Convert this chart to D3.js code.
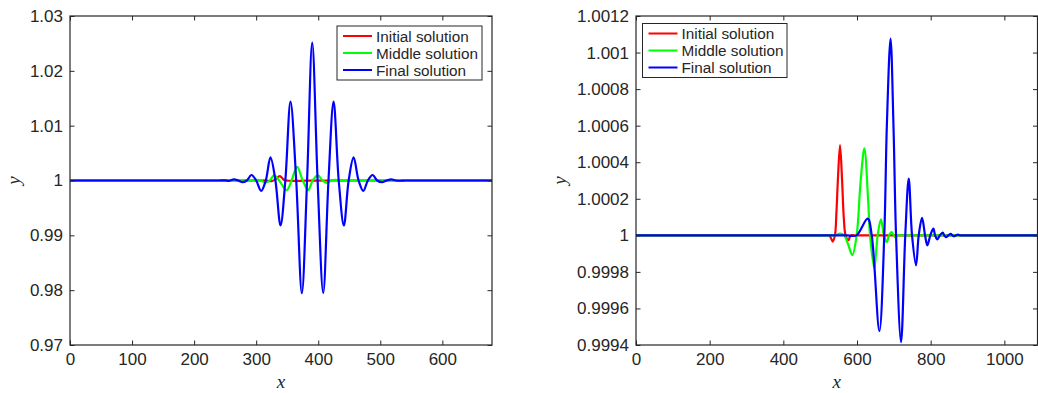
<!DOCTYPE html>
<html>
<head>
<meta charset="utf-8">
<script src="https://cdn.jsdelivr.net/npm/d3@7"></script>
<style>
  html, body { margin: 0; padding: 0; background: #fff; }
  svg { display: block; }
</style>
</head>
<body>
<svg id="chart" width="1038" height="393"></svg>
<script>
// ---------------- DATA ----------------
const seriesNames = ["Initial solution", "Middle solution", "Final solution"];
const seriesColors = ["#ff0000", "#00ff00", "#0000ff"];

// Left panel
const leftXTicks = [0, 100, 200, 300, 400, 500, 600];
const leftYTicks = [0.97, 0.98, 0.99, 1, 1.01, 1.02, 1.03];
const leftYTickLabels = ["0.97", "0.98", "0.99", "1", "1.01", "1.02", "1.03"];

const leftInitialX = [0, 300, 308, 315, 325, 331, 338, 345, 352, 380, 420, 430, 440, 680];
const leftInitialY = [1, 1, 1, 1, 0.9999, 1.0002, 1.0008, 1.0001, 0.99995, 0.99996, 1, 1, 1, 1];

const leftMiddleX = [0, 275, 282, 290, 300, 308, 315, 322, 329, 337, 349, 357, 366, 375, 384, 391, 399.4, 407, 414.5, 421, 428, 435, 445, 455, 680];
const leftMiddleY = [1, 1, 1, 1, 1.0001, 1, 0.9996, 1, 1.00096, 1, 0.99824, 1, 1.0025, 1, 0.9983, 1, 1.00093, 1, 0.99958, 1, 1.0001, 1, 1, 1, 1];

const leftFinalX = [0, 225, 232, 240, 250, 257, 264, 271, 278, 285, 292.4, 300, 308, 315.5, 323, 331, 339.2, 347, 355.3, 364.5, 373.6, 382, 390.3, 399, 408, 416.5, 424.7, 433, 441.3, 449, 457, 465, 472.6, 480, 487.6, 495, 503, 510, 517.7, 525, 532, 540, 550, 560, 680];
const leftFinalY = [1, 1, 1, 1, 1.00002, 0.99995, 1.0002, 1, 0.9997, 1, 1.001, 1, 0.9981, 1, 1.0042, 1, 0.9918, 1, 1.0144, 1, 0.97945, 1, 1.02515, 1, 0.9795, 1, 1.0144, 1, 0.9918, 1, 1.0042, 1, 0.9981, 1, 1.001, 1, 0.9997, 1, 1.0002, 1, 0.99995, 1, 1, 1, 1];

// Right panel
const rightXTicks = [0, 200, 400, 600, 800, 1000];
const rightYTicks = [0.9994, 0.9996, 0.9998, 1, 1.0002, 1.0004, 1.0006, 1.0008, 1.001, 1.0012];
const rightYTickLabels = ["0.9994", "0.9996", "0.9998", "1", "1.0002", "1.0004", "1.0006", "1.0008", "1.001", "1.0012"];

const rightInitialX = [0, 505, 514, 522, 528, 534, 540, 544, 548, 553.9, 559.5, 564, 569, 576.5, 583, 592, 602, 1090];
const rightInitialY = [1, 1, 1, 1, 0.99999, 0.999966, 1, 1.00012, 1.0003, 1.000494, 1.0003, 1.0001, 1, 0.999973, 1, 1, 1, 1];

const rightMiddleX = [0, 520, 530, 540, 553.9, 565, 576, 587.4, 599, 610, 620, 630, 635.4, 647, 656, 665, 673, 680.6, 687, 694, 703, 712, 722, 732, 1090];
const rightMiddleY = [1, 1, 1, 1, 1.00001, 1, 0.99995, 0.999892, 1, 1.0003, 1.000476, 1.0002, 1, 0.99982, 1, 1.0000875, 1, 0.999963, 1, 1.000018, 0.99999, 1, 1, 1, 1];

const rightFinalX = [0, 555, 565, 575, 585, 599, 629, 640, 660.7, 674, 681, 691, 699, 706, 719.5, 731, 740.4, 749.4, 760.2, 767.5, 776.6, 784.7, 791, 799, 807.3, 812, 818, 825, 832.6, 837, 841.7, 848, 854.4, 859, 863.5, 869, 874, 880, 890, 900, 1090];
const rightFinalY = [1, 1, 1, 1, 0.999997, 1, 1.0000913, 1, 0.999476, 1, 1.0006, 1.001076, 1.0006, 1, 0.999416, 1, 1.00031, 1, 0.999836, 1, 1.000095, 1, 0.999945, 1, 1.000037, 1, 0.999978, 1, 1.000015, 1, 0.99999, 1, 1.000008, 1, 0.999995, 1, 1.000004, 1, 1, 1, 1];

// ---------------- DRAW ----------------
const svg = d3.select("#chart");
const textColor = "#262626";
const tickFont = "'Liberation Sans', Arial, Helvetica, sans-serif";

function zip(xs, ys) { return xs.map((x, i) => ({ x, y: ys[i] })); }

function panel(cfg) {
  const g = svg.append("g");
  const x = d3.scaleLinear().domain(cfg.xDomain).range([cfg.left, cfg.right]);
  const y = d3.scaleLinear().domain(cfg.yDomain).range([cfg.bottom, cfg.top]);
  const tickLen = 4.5;

  const clipId = "clip-" + cfg.id;
  svg.append("clipPath").attr("id", clipId).append("rect")
    .attr("x", cfg.left).attr("y", cfg.top)
    .attr("width", cfg.right - cfg.left).attr("height", cfg.bottom - cfg.top);

  // curves
  const line = d3.line().x(d => x(d.x)).y(d => y(d.y)).curve(d3.curveCatmullRom.alpha(0.5));
  const lines = g.append("g").attr("clip-path", `url(#${clipId})`);
  cfg.series.forEach((s, i) => {
    lines.append("path")
      .datum(s)
      .attr("fill", "none")
      .attr("stroke", seriesColors[i])
      .attr("stroke-width", 2.2)
      .attr("stroke-linejoin", "round")
      .attr("d", line);
  });

  // axes (MATLAB-like box with inward ticks)
  const bottomAxis = d3.axisBottom(x).tickValues(cfg.xTicks).tickSize(-tickLen).tickPadding(8).tickFormat(d3.format("d"));
  const topAxis = d3.axisTop(x).tickValues(cfg.xTicks).tickSize(-tickLen).tickFormat("");
  const leftAxis = d3.axisLeft(y).tickValues(cfg.yTicks).tickSize(-tickLen).tickPadding(7)
    .tickFormat((d, i) => cfg.yLabels[i]);
  const rightAxis = d3.axisRight(y).tickValues(cfg.yTicks).tickSize(-tickLen).tickFormat("");

  const axStyle = sel => {
    sel.selectAll("path").remove();
    sel.selectAll("line").attr("stroke", textColor).attr("stroke-width", 1);
    sel.selectAll("text").attr("fill", textColor).style("font-family", tickFont).style("font-size", "17px");
  };
  g.append("g").attr("transform", `translate(0,${cfg.bottom})`).call(bottomAxis).call(axStyle);
  g.append("g").attr("transform", `translate(0,${cfg.top})`).call(topAxis).call(axStyle);
  g.append("g").attr("transform", `translate(${cfg.left},0)`).call(leftAxis).call(axStyle);
  g.append("g").attr("transform", `translate(${cfg.right},0)`).call(rightAxis).call(axStyle);

  g.append("rect")
    .attr("x", cfg.left).attr("y", cfg.top)
    .attr("width", cfg.right - cfg.left).attr("height", cfg.bottom - cfg.top)
    .attr("fill", "none").attr("stroke", textColor).attr("stroke-width", 1.2);

  // axis labels
  g.append("text")
    .attr("x", (cfg.left + cfg.right) / 2).attr("y", 388)
    .attr("text-anchor", "middle")
    .style("font-family", "'Liberation Serif', 'DejaVu Serif', serif")
    .style("font-style", "italic").style("font-size", "19px")
    .attr("fill", textColor).text("x");
  g.append("text")
    .attr("transform", `translate(${cfg.yLabelX},${(cfg.top + cfg.bottom) / 2}) rotate(-90)`)
    .attr("text-anchor", "middle")
    .style("font-family", "'Liberation Serif', 'DejaVu Serif', serif")
    .style("font-style", "italic").style("font-size", "19px")
    .attr("fill", textColor).text("y");

  // legend
  const lg = g.append("g");
  lg.append("rect")
    .attr("x", cfg.legend.x).attr("y", cfg.legend.y)
    .attr("width", cfg.legend.w).attr("height", cfg.legend.h)
    .attr("fill", "#fff").attr("stroke", textColor).attr("stroke-width", 1);
  seriesNames.forEach((name, i) => {
    const cy = cfg.legend.y + 10 + i * 17;
    lg.append("line")
      .attr("x1", cfg.legend.x + 6).attr("x2", cfg.legend.x + 35)
      .attr("y1", cy).attr("y2", cy)
      .attr("stroke", seriesColors[i]).attr("stroke-width", 2);
    lg.append("text")
      .attr("x", cfg.legend.x + 39).attr("y", cy)
      .attr("dy", "0.36em")
      .style("font-family", tickFont).style("font-size", "15.3px")
      .attr("fill", textColor).text(name);
  });
}

panel({
  id: "left",
  left: 70, right: 492, top: 16, bottom: 345,
  xDomain: [0, 680], yDomain: [0.97, 1.03],
  xTicks: leftXTicks, yTicks: leftYTicks, yLabels: leftYTickLabels,
  yLabelX: 20,
  series: [zip(leftInitialX, leftInitialY), zip(leftMiddleX, leftMiddleY), zip(leftFinalX, leftFinalY)],
  legend: { x: 337, y: 26, w: 145, h: 54 }
});

panel({
  id: "right",
  left: 636, right: 1037.5, top: 16, bottom: 345,
  xDomain: [0, 1090], yDomain: [0.9994, 1.0012],
  xTicks: rightXTicks, yTicks: rightYTicks, yLabels: rightYTickLabels,
  yLabelX: 566,
  series: [zip(rightInitialX, rightInitialY), zip(rightMiddleX, rightMiddleY), zip(rightFinalX, rightFinalY)],
  legend: { x: 642.5, y: 23.5, w: 144.5, h: 54 }
});
</script>
</body>
</html>
